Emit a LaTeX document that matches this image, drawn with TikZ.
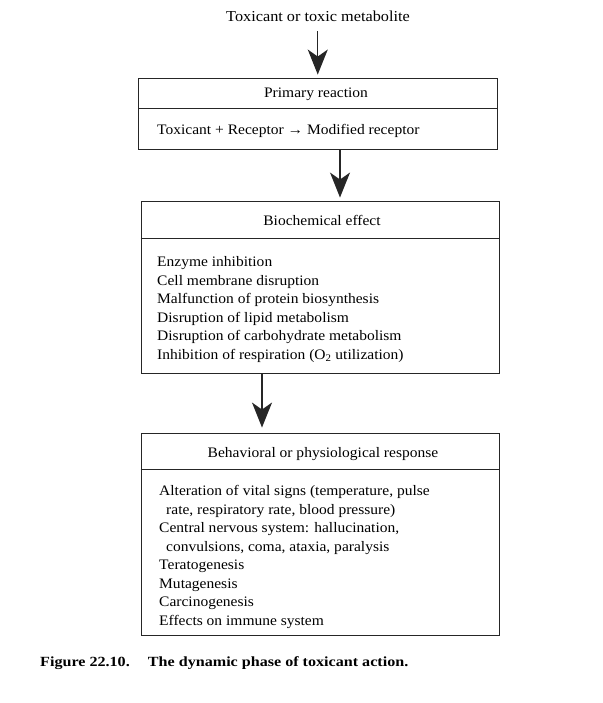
\documentclass[tikz,border=0pt]{standalone}
\usepackage{fontspec}
\setmainfont{Liberation Serif}[FakeStretch=1.07]
\newfontfamily\capfont{Liberation Serif}[FakeStretch=1.15]
\usetikzlibrary{arrows.meta,positioning}
\tikzset{
  box-frame/.style={draw,black!85,line width=0.9pt,rectangle,inner sep=0pt},
  box-head/.style={anchor=base,inner sep=0pt,font=\fontsize{14.5}{17}\selectfont},
  box-item/.style={anchor=base west,inner sep=0pt,font=\fontsize{14.5}{17}\selectfont},
  divline/.style={draw,black!85,line width=0.8pt},
  flow/.style={-{Stealth[length=25pt,width=20pt,inset=7pt]},line width=1.4pt,black!85},
  caption/.style={anchor=base west,inner sep=0pt,font=\capfont\fontsize{14}{16}\selectfont\bfseries},
}

\begin{document}
\begin{tikzpicture}[x=1pt,y=-1pt]
  \useasboundingbox (0,0) rectangle (602,703);

  % input
  \node[box-head,font=\fontsize{15.2}{17}\selectfont] (toxin) at (318, 22) {Toxicant or toxic metabolite};

  % BOX 1: primary reaction
  \node[box-frame,minimum width=358.5pt,minimum height=71pt] (bx1) at (317.75, 113.5) {};
  \draw[divline] (bx1.west |- 0,108) -- (bx1.east |- 0,108);
  \node[box-head] (bx1-head) at (316, 97.5)  {Primary reaction};
  \node[box-item] (bx1-l1)   at (157, 134.5) {Toxicant + Receptor → Modified receptor};

  % BOX 2: biochemical effect
  \node[box-frame,minimum width=358pt,minimum height=172pt] (bx2) at (320, 287) {};
  \draw[divline] (bx2.west |- 0,238) -- (bx2.east |- 0,238);
  \node[box-head] (bx2-head) at (322, 225.5) {Biochemical effect};
  \node[box-item] (bx2-l1)   at (157, 266.5) {Enzyme inhibition};
  \node[box-item] (bx2-l2)   at (157, 285)   {Cell membrane disruption};
  \node[box-item] (bx2-l3)   at (157, 303.5) {Malfunction of protein biosynthesis};
  \node[box-item] (bx2-l4)   at (157, 322)   {Disruption of lipid metabolism};
  \node[box-item] (bx2-l5)   at (157, 340.5) {Disruption of carbohydrate metabolism};
  \node[box-item] (bx2-l6)   at (157, 359)   {Inhibition of respiration (O\textsubscript{2} utilization)};

  % BOX 3: behavioral or physiological response
  \node[box-frame,minimum width=358pt,minimum height=202pt] (bx3) at (320, 534) {};
  \draw[divline] (bx3.west |- 0,469) -- (bx3.east |- 0,469);
  \node[box-head] (bx3-head) at (323, 457.5) {Behavioral or physiological response};
  \node[box-item] (bx3-l1)   at (159, 495.5) {Alteration of vital signs (temperature, pulse};
  \node[box-item] (bx3-l2)   at (166, 514)   {rate, respiratory rate, blood pressure)};
  \node[box-item] (bx3-l3)   at (159, 532.5) {Central nervous system: hallucination,};
  \node[box-item] (bx3-l4)   at (166, 551)   {convulsions, coma, ataxia, paralysis};
  \node[box-item] (bx3-l5)   at (159, 569.5) {Teratogenesis};
  \node[box-item] (bx3-l6)   at (159, 588)   {Mutagenesis};
  \node[box-item] (bx3-l7)   at (159, 606.5) {Carcinogenesis};
  \node[box-item] (bx3-l8)   at (159, 625)   {Effects on immune system};

  % connectors
  \coordinate (a2) at (340, 0);
  \coordinate (a3) at (262, 0);
  \draw[flow,shorten <=9pt,shorten >=3pt] (toxin.south -| bx1.north) -- (bx1.north);
  \draw[flow,shorten >=3pt] (bx1.south -| a2) -- (bx2.north -| a2);
  \draw[flow,shorten >=5pt] (bx2.south -| a3) -- (bx3.north -| a3);

  % caption
  \node[caption] (cap) at (40, 666.5) {Figure 22.10.\hspace{1.3em}The dynamic phase of toxicant action.};

\end{tikzpicture}
\end{document}
